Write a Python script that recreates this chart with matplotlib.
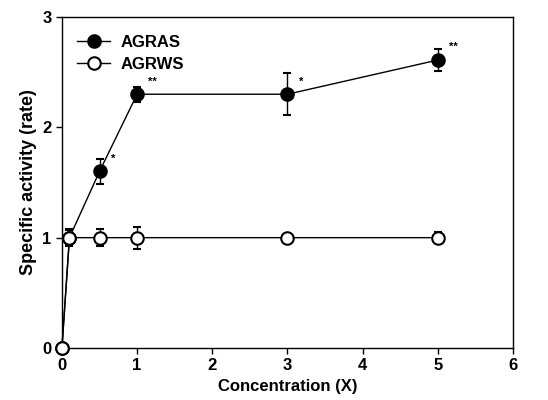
import numpy as np
import matplotlib
matplotlib.use("Agg")
import matplotlib.pyplot as plt

plt.rcParams['font.family'] = ['Liberation Sans', 'DejaVu Sans']
plt.rcParams['font.weight'] = 'bold'

conc = [0, 0.1, 0.5, 1, 3, 5]
agras = [0, 1.0, 1.6, 2.3, 2.3, 2.61]
agras_err = [0, 0.07, 0.11, 0.07, 0.19, 0.10]
agrws = [0, 1.0, 1.0, 1.0, 1.0, 1.0]
agrws_err = [0, 0.08, 0.08, 0.10, 0.02, 0.05]
stars = {0.5: '*', 1: '**', 3: '*', 5: '**'}

fig = plt.figure(figsize=(5.48, 4), dpi=100)
ax = fig.add_axes([0.113, 0.13, 0.823, 0.8275])

for yv, err, face, lab in [(agras, agras_err, 'black', 'AGRAS'),
                           (agrws, agrws_err, 'white', 'AGRWS')]:
    eb = ax.errorbar(conc, yv, yerr=err, fmt='-o', color='black', mfc=face,
                     mew=1.5, ms=9, lw=1, capsize=3, elinewidth=1, label=lab, zorder=3)
    arts = [eb.lines[0]] + list(eb.lines[1]) + list(eb.lines[2])
    for art in arts:
        art.set_clip_on(False)

for i, xv in enumerate(conc):
    if xv in stars:
        ax.annotate(stars[xv], (xv, agras[i]), xytext=(8, 7), textcoords='offset points',
                    fontsize=8, fontweight='bold')

ax.set_xlim(0, 6)
ax.set_ylim(0, 3)
ax.set_xticks(range(0, 7))
ax.set_yticks(range(0, 4))
ax.tick_params(direction='out', length=4, labelsize=12, width=1)
for s in ax.spines.values():
    s.set_linewidth(1)

ax.set_xlabel('Concentration (X)', fontsize=12, fontweight='bold')
ax.set_ylabel('Specific activity (rate)', fontsize=13, fontweight='bold')

handles, labels = ax.get_legend_handles_labels()
handles = [h[0] for h in handles]
ax.legend(handles, labels, loc='upper left', frameon=False, fontsize=12,
          handlelength=2.0, handletextpad=0.6, labelspacing=0.4,
          bbox_to_anchor=(0.0, 0.99))

plt.savefig("out.png", dpi=100)
